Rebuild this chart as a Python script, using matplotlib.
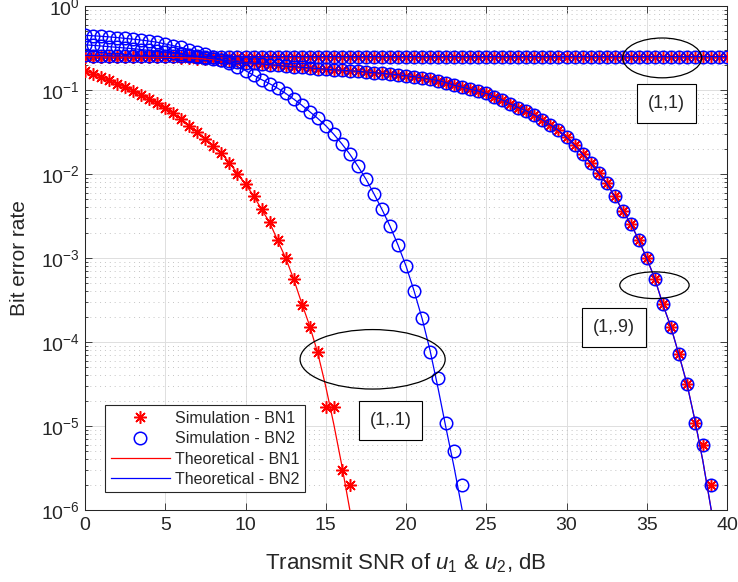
import numpy as np
import matplotlib
matplotlib.use('Agg')
import matplotlib.pyplot as plt
from matplotlib.patches import Ellipse
from matplotlib.lines import Line2D
from matplotlib.ticker import LogLocator, NullFormatter

plt.rcParams['font.family'] = ['Liberation Sans', 'DejaVu Sans']
plt.rcParams['mathtext.fontset'] = 'custom'
plt.rcParams['mathtext.rm'] = 'Liberation Sans'
plt.rcParams['mathtext.it'] = 'Liberation Sans:italic'
plt.rcParams['mathtext.bf'] = 'Liberation Sans:bold'

# ---------------- data ----------------
snr_db = np.arange(0, 40.5, 0.5)   # transmit SNR grid, dB (0:0.5:40)

# case (1,.1)
sim_bn1_a = [0.170, 0.156, 0.142, 0.130, 0.118, 0.108, 0.0973, 0.0871, 0.0780, 0.0692,
             0.0605, 0.0527, 0.0448, 0.0376, 0.0316, 0.0264, 0.0216, 0.0176, 0.0136, 0.0101,
             0.00750, 0.00552, 0.00379, 0.00266, 0.00162, 0.00100, 0.000562, 0.000275, 0.000151, 7.5e-5,
             1.7e-5, 1.7e-5, 3.0e-6, 2.0e-6]
th_bn1_a = [0.170, 0.156, 0.142, 0.130, 0.118, 0.108, 0.0973, 0.0871, 0.0780, 0.0692,
            0.0605, 0.0527, 0.0448, 0.0376, 0.0316, 0.0264, 0.0216, 0.0176, 0.0136, 0.0101,
            0.00750, 0.00552, 0.00379, 0.00266, 0.00162, 0.00100, 0.000562, 0.000290, 0.000155, 7.4e-5,
            2.95e-5, 1.05e-5, 3.4e-6, 1.0e-6, 2.5e-7]
sim_bn2_a = [0.447, 0.442, 0.436, 0.429, 0.421, 0.412, 0.403, 0.393, 0.382, 0.370,
             0.353, 0.337, 0.321, 0.303, 0.285, 0.266, 0.247, 0.229, 0.209, 0.190,
             0.170, 0.150, 0.133, 0.119, 0.105, 0.0912, 0.0780, 0.0661, 0.0552, 0.0459,
             0.0376, 0.0297, 0.0229, 0.0172, 0.0124, 0.00871, 0.00582, 0.00380, 0.00240, 0.00143,
             0.000804, 0.000407, 0.000191, 7.67e-5, 3.69e-5, 1.10e-5, 5.0e-6, 2.0e-6]
th_bn2_a = [0.447, 0.442, 0.436, 0.429, 0.421, 0.412, 0.403, 0.393, 0.382, 0.370,
            0.353, 0.337, 0.321, 0.303, 0.285, 0.266, 0.247, 0.229, 0.209, 0.190,
            0.170, 0.150, 0.133, 0.119, 0.105, 0.0912, 0.0780, 0.0661, 0.0552, 0.0459,
            0.0376, 0.0297, 0.0229, 0.0172, 0.0124, 0.00871, 0.00582, 0.00380, 0.00240, 0.00143,
            0.000804, 0.000407, 0.000191, 7.9e-5, 2.8e-5, 9.3e-6, 3.2e-6, 1.0e-6, 2.8e-7]

# case (1,.9)
sim_bn1_b = [0.250, 0.250, 0.250, 0.249, 0.249, 0.248, 0.248, 0.247, 0.247, 0.246,
             0.246, 0.244, 0.242, 0.240, 0.237, 0.234, 0.231, 0.227, 0.222, 0.217,
             0.212, 0.208, 0.204, 0.200, 0.196, 0.192, 0.189, 0.186, 0.183, 0.180,
             0.177, 0.174, 0.172, 0.169, 0.167, 0.164, 0.161, 0.158, 0.155, 0.152,
             0.148, 0.144, 0.140, 0.135, 0.129, 0.122, 0.114, 0.108, 0.102, 0.0973,
             0.0912, 0.0834, 0.0760, 0.0681, 0.0617, 0.0562, 0.0503, 0.0440, 0.0383, 0.0331,
             0.0272, 0.0219, 0.0173, 0.0134, 0.0102, 0.00774, 0.00543, 0.00366, 0.00257, 0.00164,
             0.00099, 0.000569, 0.000281, 0.000152, 7.1e-5, 3.2e-5, 1.1e-5, 5.9e-6, 2.0e-6]
sim_bn2_b = [0.345, 0.340, 0.334, 0.328, 0.322, 0.316, 0.310, 0.303, 0.296, 0.289,
             0.282, 0.275, 0.268, 0.259, 0.250, 0.242, 0.235, 0.228, 0.222, 0.217,
             0.212, 0.208, 0.204, 0.200, 0.196, 0.192, 0.189, 0.186, 0.183, 0.180,
             0.177, 0.174, 0.172, 0.169, 0.167, 0.164, 0.161, 0.158, 0.155, 0.152,
             0.148, 0.144, 0.140, 0.135, 0.129, 0.122, 0.114, 0.108, 0.102, 0.0973,
             0.0912, 0.0834, 0.0760, 0.0681, 0.0617, 0.0562, 0.0503, 0.0440, 0.0383, 0.0331,
             0.0272, 0.0219, 0.0173, 0.0134, 0.0102, 0.00774, 0.00543, 0.00366, 0.00257, 0.00164,
             0.00099, 0.000569, 0.000281, 0.000152, 7.1e-5, 3.2e-5, 1.1e-5, 5.9e-6, 2.0e-6]
th_bn1_b = sim_bn1_b[:76] + [1.17e-5, 3.8e-6, 1.05e-6, 2.8e-7]
th_bn2_b = sim_bn2_b[:76] + [1.17e-5, 3.8e-6, 1.05e-6, 2.8e-7]

# case (1,1)
sim_bn1_c = [0.249, 0.250, 0.249, 0.250, 0.250, 0.249, 0.250, 0.250, 0.249, 0.250,
             0.250, 0.250, 0.249, 0.250, 0.250, 0.250, 0.250, 0.249, 0.250, 0.250,
             0.250, 0.250, 0.250, 0.249, 0.250, 0.250, 0.250, 0.250, 0.250, 0.250,
             0.249, 0.250, 0.250, 0.250, 0.250, 0.250, 0.250, 0.250, 0.249, 0.250,
             0.250, 0.250, 0.250, 0.250, 0.250, 0.250, 0.250, 0.250, 0.250, 0.250,
             0.250, 0.250, 0.250, 0.250, 0.250, 0.250, 0.250, 0.250, 0.250, 0.250,
             0.250, 0.250, 0.250, 0.250, 0.250, 0.250, 0.250, 0.250, 0.250, 0.250,
             0.250, 0.250, 0.250, 0.250, 0.250, 0.250, 0.250, 0.250, 0.250, 0.250, 0.250]
sim_bn2_c = [0.258, 0.257, 0.256, 0.255, 0.254, 0.254, 0.253, 0.253, 0.252, 0.252,
             0.252, 0.251, 0.251, 0.251, 0.251, 0.250, 0.250, 0.250, 0.250, 0.250,
             0.250, 0.250, 0.250, 0.250, 0.250, 0.250, 0.250, 0.250, 0.250, 0.250,
             0.250, 0.250, 0.250, 0.250, 0.250, 0.250, 0.250, 0.250, 0.250, 0.250,
             0.250, 0.250, 0.250, 0.250, 0.250, 0.250, 0.250, 0.250, 0.250, 0.250,
             0.250, 0.250, 0.250, 0.250, 0.250, 0.250, 0.250, 0.250, 0.250, 0.250,
             0.250, 0.250, 0.250, 0.250, 0.250, 0.250, 0.250, 0.250, 0.250, 0.250,
             0.250, 0.250, 0.250, 0.250, 0.250, 0.250, 0.250, 0.250, 0.250, 0.250, 0.250]
th_bn1_c = sim_bn1_c
th_bn2_c = sim_bn2_c

legend_labels = ['Simulation - BN1', 'Simulation - BN2', 'Theoretical - BN1', 'Theoretical - BN2']
case_labels = ['(1,1)', '(1,.9)', '(1,.1)']

# ---------------- figure ----------------
fig = plt.figure(figsize=(7.38, 5.82), dpi=100)
ax = fig.add_axes([0.1152, 0.1237, 0.8699, 0.866])

DARK = '#262626'
star = (8, 2, 0)
ms_star = 9.0
ms_circ = 9.0

sims_bn1 = [sim_bn1_a, sim_bn1_b, sim_bn1_c]
sims_bn2 = [sim_bn2_a, sim_bn2_b, sim_bn2_c]
ths_bn1 = [th_bn1_a, th_bn1_b, th_bn1_c]
ths_bn2 = [th_bn2_a, th_bn2_b, th_bn2_c]

for v in sims_bn1:
    ax.semilogy(snr_db[:len(v)], v, linestyle='none', marker=star, ms=ms_star,
                mec='r', mew=1.1, color='r', zorder=3)
for v in sims_bn2:
    ax.semilogy(snr_db[:len(v)], v, linestyle='none', marker='o', ms=ms_circ,
                mfc='none', mec='b', mew=1.1, zorder=4)
for v in ths_bn1:
    ax.semilogy(snr_db[:len(v)], v, '-', color='r', lw=0.9, zorder=5)
for v in ths_bn2:
    ax.semilogy(snr_db[:len(v)], v, '-', color='b', lw=0.9, zorder=6)

ax.set_xlim(0, 40)
ax.set_ylim(1e-6, 1e0)
ax.set_xticks([0, 5, 10, 15, 20, 25, 30, 35, 40])
ax.yaxis.set_major_locator(LogLocator(base=10, numticks=10))
ax.yaxis.set_minor_locator(LogLocator(base=10, subs=np.arange(2, 10), numticks=20))
ax.yaxis.set_minor_formatter(NullFormatter())

ax.set_axisbelow(True)
ax.grid(True, which='major', axis='both', color='#dedede', lw=0.7, linestyle='-')
ax.grid(True, which='minor', axis='y', color='#c4c4c4', lw=0.7, linestyle=(0, (1, 4)))

ax.tick_params(which='both', direction='in', top=True, right=True, colors=DARK,
               labelcolor=DARK, labelsize=14)
ax.tick_params(which='major', length=4.7, width=0.6, pad=5)
ax.tick_params(which='minor', length=2.5, width=0.6)
ax.tick_params(axis='y', which='major', pad=4)
for s in ax.spines.values():
    s.set_color(DARK)
    s.set_linewidth(0.75)

ax.set_xlabel(r'Transmit SNR of $\mathit{u}_{\mathit{1}}$ & $\mathit{u}_{\mathit{2}}$, dB',
              fontsize=16, color=DARK)
ax.set_ylabel('Bit error rate', fontsize=15, color=DARK)
ax.yaxis.set_label_coords(-0.087, 0.5)
ax.xaxis.set_label_coords(0.5, -0.082)

# ellipses (axes fraction coordinates)
ellipses = [((0.899, 0.897), 0.123, 0.079),
            ((0.887, 0.446), 0.108, 0.053),
            ((0.448, 0.299), 0.226, 0.118)]
for (cx, cy), w, h in ellipses:
    ax.add_patch(Ellipse((cx, cy), w, h, transform=ax.transAxes, fill=False,
                         edgecolor='k', lw=0.9, zorder=7))

# text boxes
box_pos = [(0.906, 0.806), (0.824, 0.362), (0.476, 0.177)]
for lab, (tx, ty) in zip(case_labels, box_pos):
    ax.text(tx, ty, lab, transform=ax.transAxes, ha='center', va='center',
            fontsize=13, color=DARK, zorder=8,
            bbox=dict(boxstyle='square,pad=0.6', fc='white', ec='k', lw=0.8))

handles = [
    Line2D([], [], linestyle='none', marker=star, ms=ms_star, mec='r', mew=1.1, color='r'),
    Line2D([], [], linestyle='none', marker='o', ms=ms_circ, mfc='none', mec='b', mew=1.1),
    Line2D([], [], color='r', lw=0.9),
    Line2D([], [], color='b', lw=0.9),
]
leg = ax.legend(handles, legend_labels, loc='lower left', bbox_to_anchor=(0.031, 0.035),
                fontsize=11.5, frameon=True, fancybox=False, framealpha=1, edgecolor=DARK,
                handlelength=3.7, handletextpad=0.35, borderpad=0.35, labelspacing=0.33,
                borderaxespad=0, numpoints=1)
leg.get_frame().set_linewidth(0.8)
for t in leg.get_texts():
    t.set_color(DARK)

fig.savefig('out.png', dpi=100)
